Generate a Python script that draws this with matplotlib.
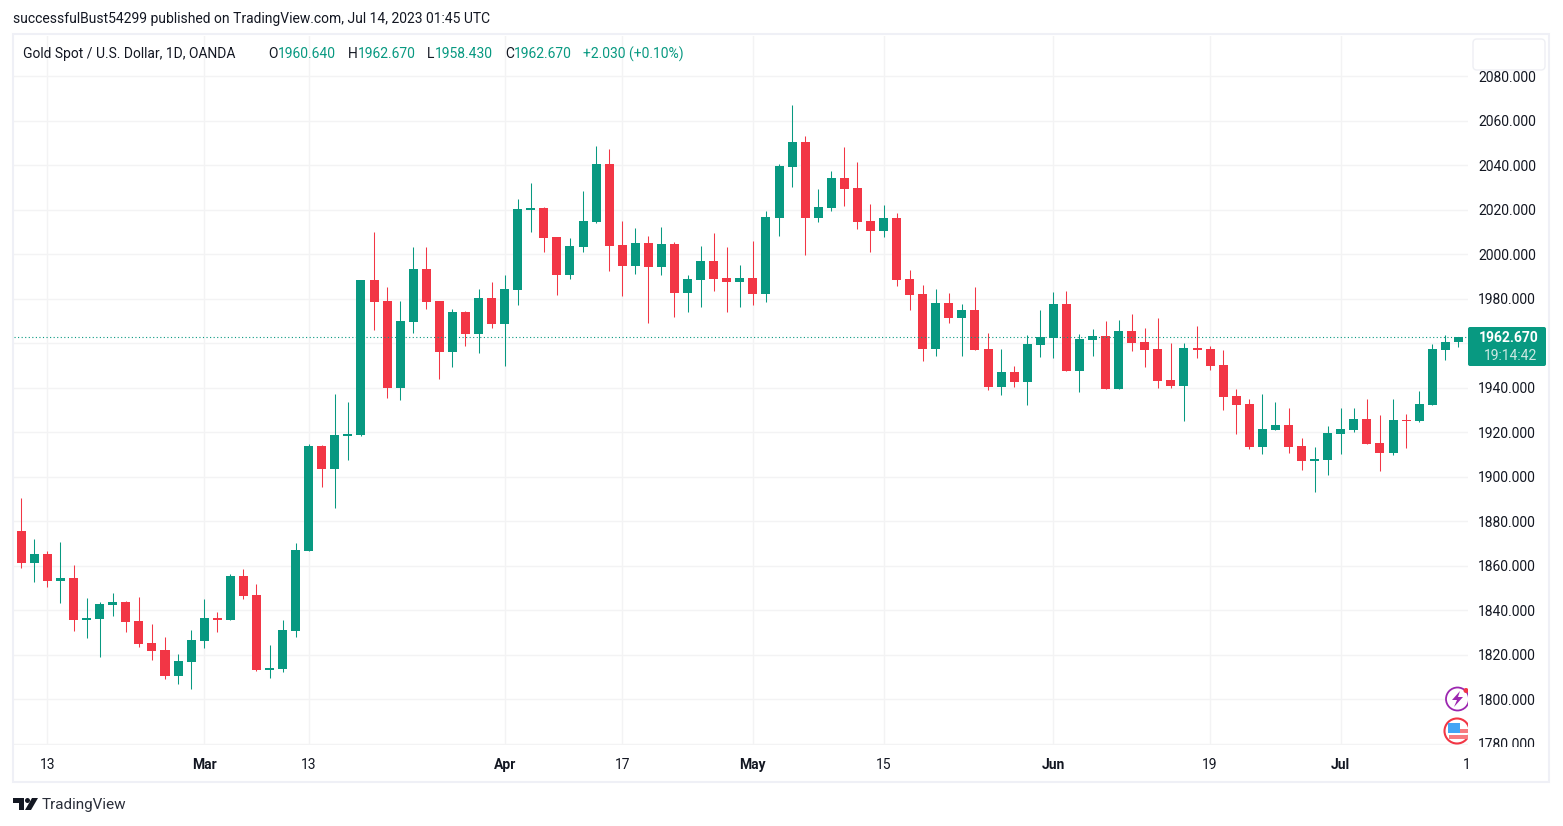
import matplotlib
matplotlib.use("Agg")
import matplotlib.pyplot as plt
from matplotlib.patches import Circle, FancyBboxPatch, Polygon, Rectangle
from matplotlib.transforms import Bbox, IdentityTransform

# daily gold candles
opens = [1875.6, 1861.3, 1865.3, 1853.2, 1854.5, 1835.6, 1836.1, 1842.4, 1843.7, 1835.2,
         1825.3, 1822.2, 1810.5, 1816.8, 1826.2, 1836.5, 1835.6, 1855.4, 1846.9, 1813.2,
         1813.6, 1830.7, 1866.7, 1913.8, 1903.5, 1918.3, 1918.8, 1988.5, 1979.0, 1939.9,
         1969.6, 1993.4, 1979.0, 1956.1, 1974.1, 1964.2, 1980.4, 1968.7, 1984.0, 2019.9,
         2020.8, 2007.8, 1990.7, 2003.3, 2014.5, 2040.6, 2004.2, 1994.8, 2005.1, 1994.3,
         2004.6, 1982.6, 1988.5, 1997.0, 1989.3, 1987.6, 1989.3, 1982.2, 2016.3, 2039.2,
         2050.5, 2016.3, 2020.8, 2034.3, 2029.8, 2015.0, 2010.5, 2016.3, 1988.9, 1982.2,
         1957.4, 1978.1, 1971.4, 1975.0, 1957.4, 1940.4, 1947.1, 1942.6, 1959.2, 1962.4,
         1977.7, 1947.5, 1961.5, 1963.3, 1939.5, 1965.5, 1960.6, 1957.4, 1943.5, 1940.8,
         1957.9, 1957.4, 1950.2, 1936.3, 1932.7, 1913.4, 1921.0, 1923.3, 1913.8, 1907.1,
         1907.6, 1919.2, 1921.0, 1926.0, 1915.2, 1910.7, 1925.5, 1925.1, 1932.3, 1957.0,
         1960.64]
highs = [1890.5, 1872.0, 1866.7, 1870.7, 1860.4, 1845.5, 1843.7, 1847.8, 1844.2, 1846.0,
         1833.9, 1828.0, 1820.4, 1831.2, 1845.1, 1839.2, 1856.3, 1858.6, 1851.8, 1824.4,
         1835.6, 1870.2, 1914.7, 1914.3, 1937.2, 1933.6, 1988.5, 2010.0, 1985.3, 1979.0,
         2003.3, 2003.3, 1979.0, 1975.4, 1974.5, 1984.4, 1987.6, 1990.7, 2024.9, 2032.1,
         2021.3, 2007.8, 2007.3, 2028.5, 2048.7, 2047.3, 2015.0, 2011.8, 2008.2, 2012.3,
         2005.5, 1990.7, 2003.7, 2009.6, 2003.3, 1995.2, 2006.0, 2019.5, 2040.6, 2067.1,
         2053.2, 2029.3, 2037.4, 2048.2, 2041.5, 2022.6, 2022.2, 2018.6, 1992.9, 1986.2,
         1984.4, 1982.6, 1977.7, 1985.3, 1964.6, 1957.4, 1949.8, 1963.7, 1975.0, 1983.0,
         1983.5, 1964.2, 1966.4, 1970.0, 1970.5, 1973.2, 1966.9, 1971.4, 1960.1, 1960.1,
         1967.8, 1958.8, 1957.0, 1939.5, 1935.0, 1937.2, 1933.6, 1930.9, 1917.4, 1913.4,
         1922.8, 1930.9, 1930.9, 1935.0, 1927.8, 1935.0, 1928.2, 1938.6, 1959.7, 1963.7,
         1962.67]
lows = [1859.0, 1852.7, 1850.5, 1843.3, 1830.7, 1827.6, 1819.0, 1837.4, 1830.3, 1823.5,
        1817.7, 1809.1, 1806.9, 1804.6, 1823.0, 1830.3, 1835.6, 1845.1, 1812.7, 1809.6,
        1812.3, 1828.0, 1866.7, 1895.4, 1886.0, 1907.5, 1918.3, 1966.0, 1935.4, 1934.5,
        1964.6, 1975.4, 1944.0, 1949.4, 1958.8, 1955.7, 1966.9, 1949.8, 1977.2, 2010.0,
        2001.0, 1981.7, 1988.9, 2001.0, 2014.1, 1992.5, 1981.3, 1991.2, 1969.1, 1990.7,
        1971.8, 1974.1, 1976.3, 1983.5, 1974.1, 1976.3, 1977.2, 1978.6, 2008.2, 2030.2,
        1999.7, 2014.5, 2019.5, 2021.7, 2011.4, 2001.0, 2007.8, 1985.8, 1975.0, 1952.0,
        1954.3, 1969.1, 1954.3, 1957.0, 1939.0, 1936.8, 1940.4, 1932.3, 1953.8, 1953.4,
        1947.5, 1938.1, 1954.3, 1939.5, 1939.5, 1956.5, 1949.3, 1939.9, 1939.9, 1925.1,
        1953.4, 1948.0, 1930.0, 1919.2, 1912.5, 1910.2, 1921.0, 1910.7, 1903.0, 1893.2,
        1900.8, 1910.2, 1920.1, 1914.7, 1902.6, 1909.8, 1913.0, 1924.6, 1932.3, 1952.5,
        1958.43]
closes = [1861.3, 1865.3, 1853.2, 1854.5, 1835.6, 1836.5, 1842.8, 1843.7, 1834.8, 1824.9,
          1821.7, 1810.5, 1817.2, 1826.7, 1836.5, 1835.6, 1855.4, 1846.4, 1813.2, 1814.1,
          1831.2, 1867.1, 1913.8, 1903.5, 1918.8, 1919.2, 1988.5, 1978.6, 1939.9, 1970.0,
          1993.4, 1978.6, 1956.1, 1974.1, 1964.2, 1980.4, 1968.7, 1984.4, 2020.4, 2020.8,
          2007.3, 1990.7, 2003.7, 2015.0, 2040.6, 2003.7, 1994.8, 2005.1, 1994.3, 2004.6,
          1982.6, 1988.9, 1997.0, 1988.9, 1987.6, 1989.3, 1982.2, 2016.8, 2039.7, 2050.5,
          2016.3, 2021.3, 2034.3, 2029.3, 2014.5, 2010.5, 2016.3, 1988.5, 1981.7, 1957.4,
          1978.1, 1971.4, 1975.0, 1957.0, 1940.4, 1947.1, 1942.6, 1959.7, 1962.8, 1977.7,
          1947.5, 1961.9, 1963.3, 1939.5, 1965.5, 1960.1, 1957.0, 1943.0, 1940.8, 1957.9,
          1957.0, 1949.8, 1935.9, 1932.3, 1913.4, 1921.5, 1923.3, 1913.4, 1907.1, 1908.0,
          1919.7, 1921.5, 1926.0, 1914.7, 1910.7, 1925.5, 1925.1, 1932.7, 1957.4, 1960.6,
          1962.67]

price_ticks = [1780, 1800, 1820, 1840, 1860, 1880, 1900, 1920, 1940, 1960, 1980,
               2000, 2020, 2040, 2060, 2080]
date_ticks = [2, 14, 22, 37, 46, 56, 66, 79, 91, 101]
date_labels = ["13", "Mar", "13", "Apr", "17", "May", "15", "Jun", "19", "Jul"]
month_labels = ["Mar", "Apr", "May", "Jun", "Jul"]
last_price = 1962.67

UP = "#089981"
DOWN = "#F23645"
INK = "#131722"
GRID = "#F3F3F4"
BORDER = "#EFF0F6"
W, H = 1563, 826
FONT = "Roboto"

plt.rcParams["font.family"] = FONT
fig = plt.figure(figsize=(W / 100, H / 100), dpi=100, facecolor="white")


def fx(x):
    return x / W


def fy(y):
    return 1 - y / H


def fig_text(x, y, s, **kw):
    kw.setdefault("fontsize", 10)
    kw.setdefault("color", INK)
    kw.setdefault("va", "center")
    return fig.text(fx(x), fy(y), s, **kw)


# plot area in pixels
left, right, top, bottom = 14, 1468, 36, 745
ax = fig.add_axes([fx(left), fy(bottom), fx(right - left), (bottom - top) / H])
ax.set_xlim(-0.559, 110.74)
ax.set_ylim(1779.5, 2098.1)
for s in ax.spines.values():
    s.set_visible(False)

# candles
idx = list(range(len(opens)))
colors = [UP if c >= o else DOWN for o, c in zip(opens, closes)]
ax.vlines(idx, lows, highs, colors=colors, linewidth=0.75, zorder=3)
body_bottom = [min(o, c) for o, c in zip(opens, closes)]
body_height = [abs(o - c) for o, c in zip(opens, closes)]
ax.bar(idx, body_height, bottom=body_bottom, width=0.69, color=colors, linewidth=0, zorder=4)

ax.axhline(last_price, color=UP, linewidth=0.8, linestyle=(0, (1, 2.2)), zorder=5)

# axes ticks and grid
ax.yaxis.tick_right()
ax.set_yticks(price_ticks)
ax.set_yticklabels(["%.3f" % p for p in price_ticks])
ax.tick_params(axis="y", length=0, pad=7.2, labelsize=10, labelcolor=INK)
ax.set_xticks(date_ticks + [110.65])
ax.set_xticklabels(date_labels + ["1"])
ax.tick_params(axis="x", length=0, pad=9.5, labelsize=10, labelcolor=INK)
ax.grid(True, color=GRID, linewidth=1)
ax.set_axisbelow(True)
ax.xaxis.get_gridlines()[-1].set_visible(False)
for lab in ax.get_xticklabels():
    if lab.get_text() in month_labels:
        lab.set_fontweight("bold")

# bottom price label is cut off by the pane
for lab in ax.get_yticklabels():
    lab.set_clip_box(Bbox([[1470, H - 747], [1550, H - 36]]))
    lab.set_clip_on(True)

# outer frame
fig.add_artist(Rectangle((fx(13), fy(782)), fx(1549 - 13), (782 - 34) / H, fill=False,
                         edgecolor=BORDER, linewidth=1.5, transform=fig.transFigure, zorder=1))

# header and legend row
fig_text(13, 19, "successfulBust54299 published on TradingView.com, Jul 14, 2023 01:45 UTC")
fig_text(23, 54, "Gold Spot / U.S. Dollar, 1D, OANDA")
for x, letter, value in [(268, "O", "1960.640"), (348, "H", "1962.670"),
                         (427, "L", "1958.430"), (505, "C", "1962.670")]:
    t = fig_text(x, 54, letter)
    t2 = fig_text(x + {"O": 10, "H": 10, "L": 8, "C": 9}[letter], 54, value, color=UP)
fig_text(583, 54, "+2.030 (+0.10%)", color=UP)

# price flag on the right
fig.add_artist(FancyBboxPatch((1468, H - 366), 78, 39, boxstyle="round,pad=0,rounding_size=2",
                              facecolor=UP, edgecolor="none", transform=IdentityTransform(), zorder=6))
fig_text(1539, 338, "1962.670", color="white", ha="right", fontweight="bold", zorder=7)
fig_text(1537, 356, "19:14:42", color="#CDE9E4", ha="right", zorder=7)

# empty button, top right
fig.add_artist(FancyBboxPatch((1473, H - 70), 72, 31, boxstyle="round,pad=0,rounding_size=4",
                              facecolor="white", edgecolor="#EEEFF4", linewidth=1,
                              transform=IdentityTransform(), zorder=6))

# event icons, cut by the pane edge
tr = IdentityTransform()
ax.add_patch(Circle((1457.5, H - 699), 11.5, facecolor="white", edgecolor="#9C27B0", linewidth=1.3,
                    transform=tr, zorder=8))
ax.add_patch(Polygon([(1460, H - 691), (1452, H - 700), (1457, H - 700), (1454, H - 707),
                      (1463, H - 697), (1458, H - 697)], closed=True, facecolor="#9C27B0",
                     edgecolor="none", transform=tr, zorder=9))
ax.add_patch(Circle((1466, H - 690.5), 2.5, facecolor="#F23645", edgecolor="none", transform=tr, zorder=9))
ax.add_patch(Circle((1457, H - 731), 12.5, facecolor="white", edgecolor="#F23645", linewidth=1.5,
                    transform=tr, zorder=8))
for y0, h0 in [(729, 4), (735, 4)]:
    ax.add_patch(Rectangle((1449, H - y0 - h0), 19, h0, facecolor="#F77C80", edgecolor="none",
                           transform=tr, zorder=9))
ax.add_patch(Rectangle((1448, H - 733), 12, 10, facecolor="#42A5F5", edgecolor="none",
                       transform=tr, zorder=10))

# TradingView logo
logo = "#131722"
fig.add_artist(Polygon([(13, H - 798), (24, H - 798), (24, H - 810), (19, H - 810), (19, H - 803),
                        (13, H - 803)], closed=True, facecolor=logo, edgecolor="none", transform=tr))
fig.add_artist(Circle((27.5, H - 800.5), 2.5, facecolor=logo, edgecolor="none", transform=tr))
fig.add_artist(Polygon([(32, H - 798), (38, H - 798), (31, H - 810), (25, H - 810)], closed=True,
                       facecolor=logo, edgecolor="none", transform=tr))
fig_text(42, 804.5, "TradingView", fontsize=11, color="#2A2E39")

fig.savefig("out.png", dpi=100, facecolor="white")
